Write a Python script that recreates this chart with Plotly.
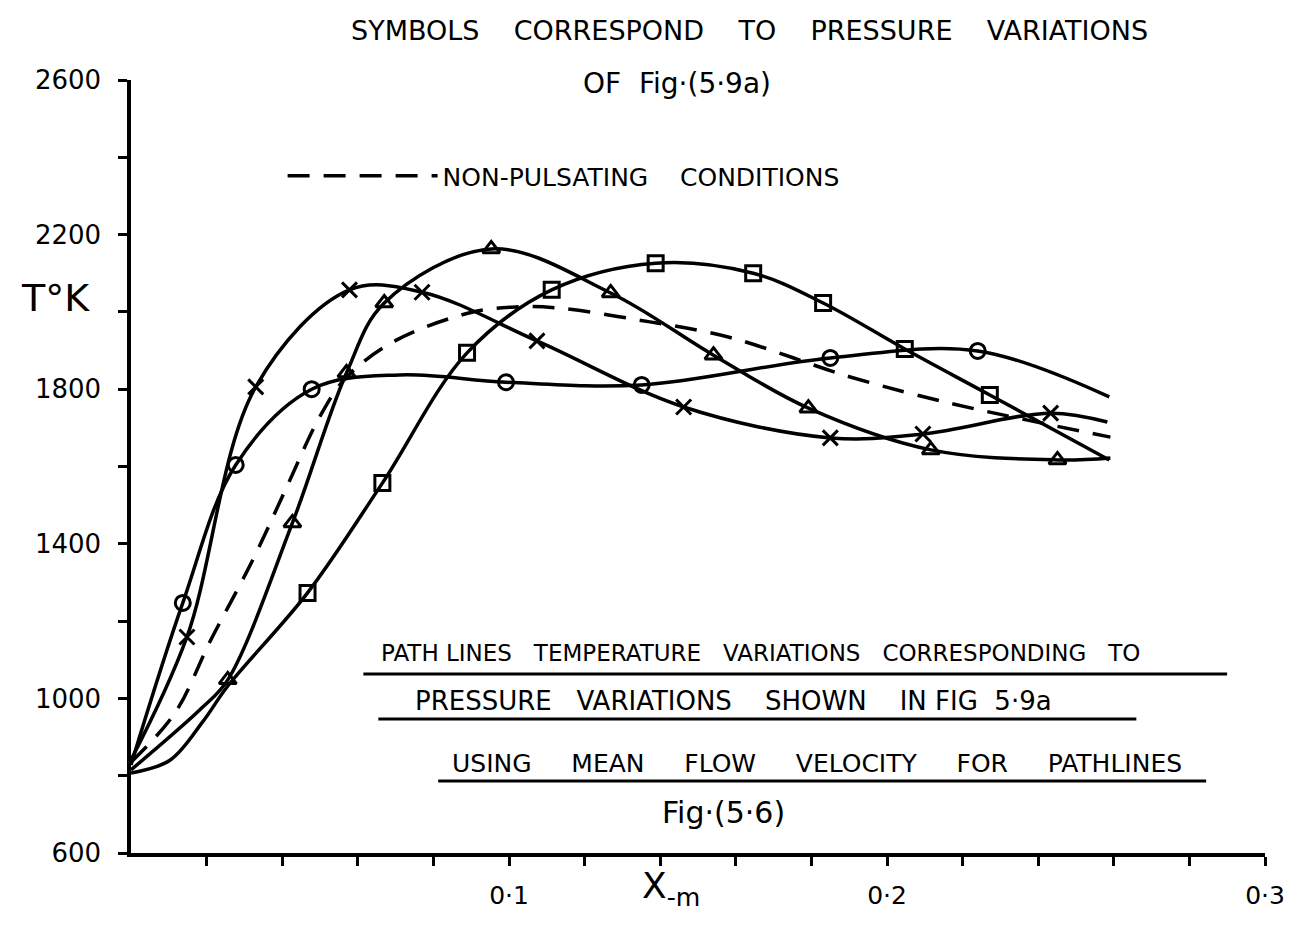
import plotly.graph_objects as go

# ---- data (x in m, T in K) ----
circle_x = [0.0, 0.0137, 0.0277, 0.0478, 0.071, 0.0992, 0.1351, 0.185, 0.224, 0.2588]
circle_T = [828, 1247, 1604, 1800, 1837, 1818, 1811, 1881, 1899, 1780]
circle_mark = [0, 1, 1, 1, 0, 1, 1, 1, 1, 0]

cross_x = [0.0, 0.0148, 0.033, 0.0578, 0.077, 0.1074, 0.1462, 0.185, 0.2095, 0.2433, 0.2583]
cross_T = [841, 1159, 1806, 2057, 2051, 1925, 1754, 1674, 1684, 1738, 1715]
cross_mark = [0, 1, 1, 1, 1, 1, 1, 1, 1, 1, 0]

tri_x = [0.0, 0.0187, 0.0256, 0.0427, 0.057, 0.067, 0.0953, 0.1269, 0.1541, 0.1792, 0.2116, 0.2451, 0.2591]
tri_T = [815, 975, 1048, 1454, 1842, 2023, 2163, 2049, 1888, 1751, 1643, 1617, 1622]
tri_mark = [0, 0, 1, 1, 1, 1, 1, 1, 1, 1, 1, 1, 0]

sq_x = [0.0, 0.0103, 0.0190, 0.0256, 0.0467, 0.0665, 0.0889, 0.1113, 0.1388, 0.1646, 0.1831, 0.2047, 0.2272, 0.2588]
sq_T = [807, 840, 940, 1032, 1273, 1557, 1894, 2057, 2126, 2100, 2023, 1904, 1785, 1617]
sq_mark = [0, 0, 0, 0, 1, 1, 1, 1, 1, 1, 1, 1, 1, 0]

np_x = [0.0, 0.0116, 0.0211, 0.0322, 0.0412, 0.0499, 0.057, 0.0702, 0.0902, 0.1018, 0.1132,
        0.1343, 0.158, 0.1905, 0.2166, 0.2372, 0.2591]
np_T = [835, 962, 1151, 1358, 1547, 1728, 1831, 1927, 1999, 2013, 2010,
        1979, 1935, 1831, 1764, 1720, 1676]

x_tick_vals = [0.1, 0.2, 0.3]
x_tick_text = ["0·1", "0·2", "0·3"]
x_minor_vals = [0.02, 0.04, 0.06, 0.08, 0.12, 0.14, 0.16, 0.18, 0.22, 0.24, 0.26, 0.28]
y_tick_vals = [600, 1000, 1400, 1800, 2200, 2600]
y_tick_text = ["600", "1000", "1400", "1800", "2200", "2600"]
y_minor_vals = [800, 1200, 1600, 2000, 2400]

FONT = "DejaVu Sans"
W, H = 1297, 931
L, R, T_, B = 131, 29, 80, 78
XR = (0.0, 0.3)
YR = (600, 2600)
PW, PH = W - L - R, H - T_ - B


def xp(px):
    return (px - L) / PW


def yp(py):
    return (H - B - py) / PH


fig = go.Figure()

series = [
    (circle_x, circle_T, circle_mark, "circle-open"),
    (cross_x, cross_T, cross_mark, "x-thin-open"),
    (tri_x, tri_T, tri_mark, "triangle-up-open"),
    (sq_x, sq_T, sq_mark, "square-open"),
]
for xs, ts, mk, sym in series:
    fig.add_trace(go.Scatter(
        x=xs, y=ts, mode="lines",
        line=dict(color="black", width=3.5, shape="spline", smoothing=1.0),
        showlegend=False, hoverinfo="skip"))
    fig.add_trace(go.Scatter(
        x=[a for a, m in zip(xs, mk) if m], y=[b for b, m in zip(ts, mk) if m],
        mode="markers",
        marker=dict(symbol=sym, size=15, color="black", line=dict(color="black", width=3)),
        showlegend=False))

fig.add_trace(go.Scatter(
    x=np_x, y=np_T, mode="lines", name="NON-PULSATING    CONDITIONS",
    line=dict(color="black", width=3.5, dash="22px,14px", shape="spline", smoothing=1.0),
    showlegend=True))

ann = []


def text(px, py, s, size, xanchor="center"):
    ann.append(dict(x=xp(px), y=yp(py), xref="paper", yref="paper", text=s, showarrow=False,
                    font=dict(family=FONT, size=size, color="black"), xanchor=xanchor,
                    yanchor="middle"))


text(751, 30, "SYMBOLS    CORRESPOND    TO    PRESSURE    VARIATIONS", 27)
text(678, 83, "OF  Fig·(5·9a)", 28)
text(55, 298, "T°K", 38)
text(762, 653, "PATH LINES   TEMPERATURE   VARIATIONS   CORRESPONDING   TO", 23)
text(735, 701, "PRESSURE   VARIATIONS    SHOWN    IN FIG  5·9a", 26)
text(819, 763, "USING     MEAN     FLOW     VELOCITY     FOR     PATHLINES", 25)
text(725, 812, "Fig·(5·6)", 30)
text(672, 888, "X<sub>-m</sub>", 36)

shapes = []
for x0, x1, yy in [(364, 1230, 674), (379, 1139, 719), (439, 1209, 781)]:
    shapes.append(dict(type="line", xref="paper", yref="paper", x0=xp(x0), x1=xp(x1),
                       y0=yp(yy), y1=yp(yy), line=dict(color="black", width=3)))

fig.update_layout(
    width=W, height=H,
    margin=dict(l=L, r=R, t=T_, b=B),
    paper_bgcolor="white", plot_bgcolor="white",
    font=dict(family=FONT, color="black"),
    annotations=ann, shapes=shapes,
    legend=dict(x=xp(283), y=yp(176),
                xanchor="left", yanchor="middle", bgcolor="rgba(0,0,0,0)",
                font=dict(family=FONT, size=25, color="black"), itemwidth=150),
    xaxis=dict(range=list(XR), showgrid=False, zeroline=False, showline=True,
               linecolor="black", linewidth=3.5, ticks="outside", ticklen=9, tickwidth=3,
               tickcolor="black", tickvals=x_tick_vals, ticktext=x_tick_text,
               minor=dict(tickmode="array", tickvals=x_minor_vals, ticks="outside",
                          ticklen=9, tickwidth=3, tickcolor="black", showgrid=False),
               tickfont=dict(family=FONT, size=25, color="black"), ticklabelstandoff=8),
    yaxis=dict(range=list(YR), showgrid=False, zeroline=False, showline=True,
               linecolor="black", linewidth=3.5, ticks="outside", ticklen=9, tickwidth=3,
               tickcolor="black", tickvals=y_tick_vals, ticktext=y_tick_text,
               minor=dict(tickmode="array", tickvals=y_minor_vals, ticks="outside",
                          ticklen=9, tickwidth=3, tickcolor="black", showgrid=False),
               tickfont=dict(family=FONT, size=26, color="black"), ticklabelstandoff=12),
)

fig.write_html("out.html", config={"displayModeBar": False},
               post_script="document.body.style.margin='0';")
